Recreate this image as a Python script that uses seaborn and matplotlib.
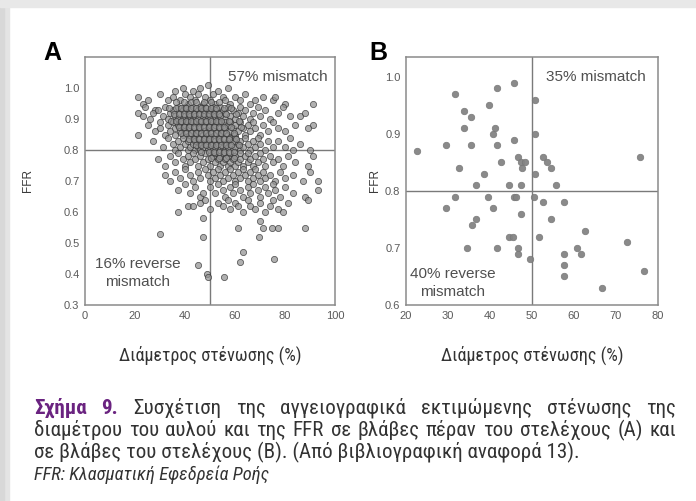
import matplotlib
matplotlib.use("Agg")
import matplotlib.pyplot as plt
import matplotlib.font_manager as fm
from matplotlib.patches import Rectangle
import seaborn as sns
import pandas as pd

# ---------------- data ----------------
# Panel A: non-left-main lesions (diameter stenosis %, FFR)
stenosis_A = [
    21, 23, 25, 28, 30, 33, 35, 36, 38, 39, 40, 41, 42, 43, 44, 45, 46, 47, 48, 49, 50, 51, 52, 53, 55, 56, 57, 58, 60, 62, 64, 66, 68, 71, 75, 76, 80,
    21, 23, 24, 26, 27, 29, 31, 32, 33, 34, 35, 36, 37, 37, 38, 39, 39, 40, 40, 41, 41, 42, 42, 43, 43, 44, 44, 45, 45, 46, 46, 47, 47, 48, 48, 49, 49,
    50, 50, 51, 51, 52, 52, 53, 53, 54, 54, 55, 56, 56, 57, 58, 59, 60, 61, 62, 63, 64, 66, 67, 69, 70, 72, 74, 77, 79, 82, 86, 91, 91, 88,
    21, 25, 28, 30, 30, 32, 33, 34, 35, 36, 36, 37, 38, 38, 39, 39, 40, 40, 41, 41, 42, 42, 43, 43, 44, 44, 45, 45, 46, 46, 47, 47, 48, 48, 49, 49,
    50, 50, 51, 51, 52, 52, 53, 53, 54, 54, 55, 55, 56, 56, 57, 57, 58, 58, 59, 60, 60, 61, 62, 63, 64, 65, 66, 67, 68, 70, 71, 73, 75, 77, 80, 84, 89,
    27, 31, 33, 35, 36, 37, 38, 39, 40, 41, 41, 42, 43, 43, 44, 44, 45, 45, 46, 46, 47, 47, 48, 48, 49, 49, 50, 50, 51, 51, 52, 52, 53, 53, 54, 54,
    55, 55, 56, 56, 57, 57, 58, 58, 59, 59, 60, 60, 61, 62, 62, 63, 64, 65, 66, 67, 68, 69, 70, 72, 73, 75, 77, 80, 83, 82, 86, 90,
    29, 32, 34, 36, 37, 39, 40, 41, 42, 43, 44, 45, 46, 47, 48, 49, 50, 51, 52, 52, 53, 54, 54, 55, 55, 56, 57, 57, 58, 58, 59, 60, 60, 61, 62, 62,
    63, 64, 65, 65, 66, 67, 68, 69, 70, 71, 72, 74, 75, 77, 79, 81, 84, 89, 91,
    32, 34, 36, 38, 40, 42, 43, 45, 46, 48, 49, 50, 51, 52, 53, 54, 55, 56, 57, 58, 59, 60, 61, 62, 63, 64, 65, 66, 67, 68, 69, 70, 71, 72, 74, 76,
    78, 80, 83, 87, 93, 90,
    37, 40, 42, 44, 46, 47, 50, 52, 53, 55, 56, 58, 59, 60, 62, 63, 65, 66, 67, 69, 70, 72, 73, 75, 76, 78, 80, 83, 88, 93,
    37, 41, 43, 46, 48, 50, 53, 55, 57, 58, 60, 61, 63, 65, 66, 68, 70, 72, 74, 75, 77, 79, 81, 89,
    30, 47, 47, 45, 48.6, 49, 55.6, 61, 62, 63, 69.5, 70, 74.6, 71, 75.5, 88, 77,
    # dense core
    36.5, 39.5, 42.5, 44.5, 47.5, 50.5, 53.5,
    33.5, 36.5, 38.5, 40.5, 42.5, 44.5, 46.5, 48.5, 50.5, 52.5, 55.5, 58.5,
    35.5, 37.5, 39.5, 41.5, 43.5, 45.5, 47.5, 49.5, 51.5, 53.5, 56.5, 60.5,
    34.5, 36.5, 38.5, 40.5, 42.5, 44.5, 46.5, 48.5, 50.5, 52.5, 54.5, 57.5, 61.5,
    37.5, 39.5, 41.5, 43.5, 45.5, 47.5, 49.5, 51.5, 53.5, 55.5, 58.5, 62.5,
    38.5, 40.5, 42.5, 44.5, 46.5, 48.5, 50.5, 52.5, 54.5, 56.5, 59.5,
    41.5, 43.5, 45.5, 47.5, 49.5, 51.5, 53.5, 55.5, 57.5, 60.5,
    44.5, 46.5, 48.5, 50.5, 52.5, 54.5, 56.5, 58.5, 61.5,
    46.5, 49.5, 51.5, 53.5, 55.5, 57.5, 59.5,
    50.5, 53.5, 56.5, 59.5,
]
ffr_A = [
    0.97, 0.95, 0.96, 0.93, 0.98, 0.96, 0.97, 0.99, 0.96, 1.00, 0.98, 0.95, 0.97, 0.99, 0.96, 0.98, 1.00, 0.95, 0.97, 1.01, 0.96, 0.98, 0.95, 0.99, 0.97, 0.96, 1.00, 0.95, 0.97, 0.96, 0.98, 0.95, 0.96, 0.97, 0.96, 0.97, 0.95,
    0.92, 0.91, 0.94, 0.90, 0.92, 0.93, 0.91, 0.94, 0.90, 0.92, 0.93, 0.91, 0.94, 0.90, 0.92, 0.93, 0.90, 0.91, 0.94, 0.92, 0.90, 0.93, 0.91, 0.94, 0.90, 0.92, 0.91, 0.93, 0.90, 0.94, 0.92, 0.91, 0.93, 0.90, 0.94, 0.92, 0.91,
    0.93, 0.90, 0.92, 0.94, 0.91, 0.93, 0.90, 0.92, 0.94, 0.91, 0.93, 0.90, 0.92, 0.94, 0.91, 0.93, 0.90, 0.92, 0.94, 0.91, 0.93, 0.90, 0.92, 0.94, 0.91, 0.93, 0.90, 0.92, 0.94, 0.91, 0.91, 0.95, 0.88, 0.92,
    0.85, 0.88, 0.86, 0.87, 0.89, 0.85, 0.88, 0.86, 0.89, 0.87, 0.85, 0.88, 0.86, 0.89, 0.87, 0.85, 0.88, 0.86, 0.89, 0.87, 0.85, 0.88, 0.86, 0.89, 0.87, 0.85, 0.88, 0.86, 0.89, 0.87, 0.85, 0.88, 0.86, 0.89, 0.87, 0.85,
    0.88, 0.86, 0.89, 0.87, 0.85, 0.88, 0.86, 0.89, 0.87, 0.85, 0.88, 0.86, 0.89, 0.87, 0.85, 0.88, 0.86, 0.89, 0.87, 0.85, 0.88, 0.86, 0.89, 0.87, 0.85, 0.88, 0.86, 0.89, 0.87, 0.85, 0.88, 0.86, 0.89, 0.87, 0.86, 0.88, 0.87,
    0.83, 0.81, 0.84, 0.82, 0.80, 0.83, 0.81, 0.84, 0.82, 0.80, 0.83, 0.81, 0.84, 0.82, 0.80, 0.83, 0.81, 0.84, 0.82, 0.80, 0.83, 0.81, 0.84, 0.82, 0.80, 0.83, 0.81, 0.84, 0.82, 0.80, 0.83, 0.81, 0.84, 0.82, 0.80, 0.83,
    0.81, 0.84, 0.82, 0.80, 0.83, 0.81, 0.84, 0.82, 0.80, 0.83, 0.81, 0.84, 0.82, 0.80, 0.83, 0.81, 0.84, 0.82, 0.80, 0.83, 0.81, 0.84, 0.82, 0.80, 0.83, 0.81, 0.83, 0.81, 0.80, 0.84, 0.82, 0.80,
    0.77, 0.75, 0.78, 0.76, 0.79, 0.77, 0.75, 0.78, 0.76, 0.79, 0.77, 0.75, 0.78, 0.76, 0.79, 0.77, 0.75, 0.78, 0.76, 0.79, 0.77, 0.75, 0.78, 0.76, 0.79, 0.77, 0.75, 0.78, 0.76, 0.79, 0.77, 0.75, 0.78, 0.76, 0.79, 0.77,
    0.75, 0.78, 0.76, 0.79, 0.77, 0.75, 0.78, 0.76, 0.79, 0.77, 0.75, 0.78, 0.76, 0.77, 0.75, 0.78, 0.76, 0.75, 0.78,
    0.72, 0.70, 0.73, 0.71, 0.74, 0.72, 0.70, 0.73, 0.71, 0.74, 0.72, 0.70, 0.73, 0.71, 0.74, 0.72, 0.70, 0.73, 0.71, 0.74, 0.72, 0.70, 0.73, 0.71, 0.74, 0.72, 0.70, 0.73, 0.71, 0.74, 0.72, 0.70, 0.73, 0.71, 0.72, 0.70,
    0.73, 0.71, 0.72, 0.70, 0.70, 0.73,
    0.67, 0.69, 0.66, 0.68, 0.65, 0.66, 0.68, 0.66, 0.69, 0.67, 0.65, 0.68, 0.66, 0.69, 0.67, 0.65, 0.68, 0.66, 0.69, 0.67, 0.65, 0.68, 0.66, 0.69, 0.67, 0.65, 0.68, 0.66, 0.65, 0.67,
    0.60, 0.62, 0.62, 0.63, 0.64, 0.61, 0.63, 0.62, 0.64, 0.61, 0.63, 0.62, 0.60, 0.64, 0.62, 0.61, 0.63, 0.60, 0.62, 0.64, 0.61, 0.60, 0.63, 0.64,
    0.53, 0.58, 0.52, 0.43, 0.40, 0.39, 0.39, 0.55, 0.44, 0.47, 0.52, 0.57, 0.55, 0.55, 0.45, 0.55, 0.55,
    # dense core
    0.955, 0.955, 0.955, 0.955, 0.955, 0.955, 0.955,
    0.935, 0.935, 0.935, 0.935, 0.935, 0.935, 0.935, 0.935, 0.935, 0.935, 0.935, 0.935,
    0.915, 0.915, 0.915, 0.915, 0.915, 0.915, 0.915, 0.915, 0.915, 0.915, 0.915, 0.915,
    0.895, 0.895, 0.895, 0.895, 0.895, 0.895, 0.895, 0.895, 0.895, 0.895, 0.895, 0.895, 0.895,
    0.875, 0.875, 0.875, 0.875, 0.875, 0.875, 0.875, 0.875, 0.875, 0.875, 0.875, 0.875,
    0.855, 0.855, 0.855, 0.855, 0.855, 0.855, 0.855, 0.855, 0.855, 0.855, 0.855,
    0.835, 0.835, 0.835, 0.835, 0.835, 0.835, 0.835, 0.835, 0.835, 0.835,
    0.815, 0.815, 0.815, 0.815, 0.815, 0.815, 0.815, 0.815, 0.815,
    0.795, 0.795, 0.795, 0.795, 0.795, 0.795, 0.795,
    0.775, 0.775, 0.775, 0.775,
]

# Panel B: left-main lesions
stenosis_B = [22.6, 31.6, 33.7, 35.5, 33.7, 29.5, 35.4, 32.6, 38.6, 36.6, 31.6, 29.5, 36.6, 35.6, 34.6,
              39.8, 41.6, 45.6, 40.6, 41.2, 41.6, 42.6, 45.6, 39.6, 40.6, 44.6, 45.6, 46.2, 47.4, 46.6,
              47.4, 48.4, 47.6, 47.4, 44.6, 45.4, 46.6, 46.6, 41.6, 49.6, 50.6, 50.6, 50.6, 50.4, 52.6,
              53.6, 54.6, 55.6, 52.6, 51.6, 54.6, 57.6, 57.6, 57.6, 57.6, 60.6, 61.6, 62.6, 66.6, 72.6,
              75.6, 76.6]
ffr_B = [0.87, 0.97, 0.94, 0.93, 0.91, 0.88, 0.88, 0.84, 0.83, 0.81, 0.79, 0.77, 0.75, 0.74, 0.70,
         0.95, 0.98, 0.99, 0.90, 0.91, 0.88, 0.85, 0.89, 0.79, 0.77, 0.81, 0.79, 0.79, 0.81, 0.86,
         0.85, 0.85, 0.84, 0.76, 0.72, 0.72, 0.70, 0.69, 0.70, 0.68, 0.96, 0.90, 0.83, 0.79, 0.86,
         0.85, 0.84, 0.81, 0.78, 0.72, 0.75, 0.78, 0.69, 0.67, 0.65, 0.70, 0.69, 0.73, 0.63, 0.71,
         0.86, 0.66]

xticks_A = [0, 20, 40, 60, 80, 100]
yticks_A = [0.3, 0.4, 0.5, 0.6, 0.7, 0.8, 0.9, 1.0]
xticks_B = [20, 30, 40, 50, 60, 70, 80]
yticks_B = [0.6, 0.7, 0.8, 0.9, 1.0]

xlabel = "Διάμετρος στένωσης (%)"
caption_line1 = [("Σχήμα", "fig"), ("9.", "fig"), ("Συσχέτιση", ""), ("της", ""), ("αγγειογραφικά", ""),
                 ("εκτιμώμενης", ""), ("στένωσης", ""), ("της", "")]
caption_line2 = "διαμέτρου του αυλού και της FFR σε βλάβες πέραν του στελέχους (Α) και"
caption_line3 = "σε βλάβες του στελέχους (Β). (Από βιβλιογραφική αναφορά 13)."
caption_note = "FFR: Κλασματική Εφεδρεία Ροής"

# ---------------- style ----------------
sns.set_theme(style="white")
available = {f.name for f in fm.fontManager.ttflist}


def first_font(cands):
    for c in cands:
        if c in available:
            return c
    return "DejaVu Sans"


plot_font = first_font(["Liberation Sans", "Arimo", "DejaVu Sans"])
cap_font = first_font(["Roboto Condensed", "Fira Sans Condensed", "Archivo Narrow", "Liberation Sans Narrow",
                       "Roboto"])
plt.rcParams["font.family"] = [plot_font, "DejaVu Sans"]

W, H = 696, 501
fig = plt.figure(figsize=(W / 100, H / 100), dpi=100)
fig.patch.set_facecolor("white")

# page border shading
fig.add_artist(Rectangle((0, 0), 9 / W, 1, transform=fig.transFigure, color="#e4e4e4", zorder=-5))
fig.add_artist(Rectangle((0, 0), 4 / W, 1, transform=fig.transFigure, color="#d8d8d8", zorder=-5))
fig.add_artist(Rectangle((0, 1 - 7 / H), 1, 7 / H, transform=fig.transFigure, color="#e8e8e8", zorder=-5))


def px_axes(x0, y0, x1, y1):
    return fig.add_axes([x0 / W, 1 - y1 / H, (x1 - x0) / W, (y1 - y0) / H])


axA = px_axes(85, 57, 335, 305)
axB = px_axes(406, 57, 658, 305)

dfA = pd.DataFrame({"stenosis": stenosis_A, "ffr": ffr_A})
dfB = pd.DataFrame({"stenosis": stenosis_B, "ffr": ffr_B})

sns.scatterplot(data=dfA, x="stenosis", y="ffr", ax=axA, s=20, color="#929292",
                edgecolor="#2e2e2e", linewidth=0.6, alpha=0.72, zorder=3)
sns.scatterplot(data=dfB, x="stenosis", y="ffr", ax=axB, s=22, color="#848484",
                edgecolor="#767676", linewidth=0.5, alpha=0.95, zorder=3)

for ax, xl, yl, xt, yt, lp in [(axA, (0, 100), (0.3, 1.1), xticks_A, yticks_A, 22),
                                (axB, (20, 80), (0.6, 1.035), xticks_B, yticks_B, 3)]:
    ax.set_xlim(*xl)
    ax.set_ylim(*yl)
    ax.set_xticks(xt)
    ax.set_yticks(yt)
    ax.set_xticklabels([f"{v:g}" for v in xt])
    ax.set_yticklabels([f"{v:.1f}" for v in yt])
    ax.axhline(0.8, color="#7a7a7a", lw=1.0, zorder=2)
    ax.axvline(50, color="#7a7a7a", lw=1.0, zorder=2)
    for sp in ax.spines.values():
        sp.set_visible(True)
        sp.set_color("#8a8a8a")
        sp.set_linewidth(1.1)
    ax.tick_params(axis="both", direction="out", length=2, width=1, color="#555555",
                   labelsize=8, labelcolor="#5a5a5a", pad=2)
    ax.set_xlabel("")
    ax.set_ylabel("FFR", fontsize=8.5, color="#3a3a3a", labelpad=lp)
    ax.set_facecolor("white")

# in-plot annotations
txt_kw = dict(color="#505050", fontsize=11, family=[plot_font, "DejaVu Sans"])
axA.text(0.97, 0.92, "57% mismatch", transform=axA.transAxes, ha="right", va="center", **txt_kw)
axA.text(0.21, 0.13, "16% reverse\nmismatch", transform=axA.transAxes, ha="center", va="center",
         linespacing=1.35, **txt_kw)
axB.text(0.95, 0.92, "35% mismatch", transform=axB.transAxes, ha="right", va="center", **txt_kw)
axB.text(0.185, 0.09, "40% reverse\nmismatch", transform=axB.transAxes, ha="center", va="center",
         linespacing=1.35, **txt_kw)

# panel letters
fig.text(52 / W, 1 - 53 / H, "A", fontsize=18, fontweight="bold", color="black", ha="center", va="center")
fig.text(378 / W, 1 - 53 / H, "B", fontsize=18, fontweight="bold", color="black", ha="center", va="center")

renderer = fig.canvas.get_renderer()
cap_kw = dict(family=[cap_font, "DejaVu Sans"])


def fit_size(text, target_px, base=12, **kw):
    t = fig.text(0, 0, text, fontsize=base, **kw)
    w = t.get_window_extent(renderer).width
    t.remove()
    return base * target_px / w


# x labels
xl_size = fit_size(xlabel, 183, **cap_kw)
for cx in (210, 532):
    fig.text(cx / W, 1 - 355 / H, xlabel, fontsize=xl_size, color="#333333", ha="center", va="center", **cap_kw)

# caption
X0, X1 = 34, 676
cap_size = fit_size(caption_line3, 578 - X0, **cap_kw)
purple = "#6a2380"


def justify(words, ybase):
    objs = []
    for w, kind in words:
        kw = dict(fontsize=cap_size, va="baseline", ha="left", **cap_kw)
        if kind == "fig":
            kw.update(color=purple, fontweight="bold")
        else:
            kw.update(color="#333333")
        objs.append(fig.text(0, 1 - ybase / H, w, **kw))
    widths = [t.get_window_extent(renderer).width for t in objs]
    gap = (X1 - X0 - sum(widths)) / (len(objs) - 1)
    x = X0
    for t, wd in zip(objs, widths):
        t.set_x(x / W)
        x += wd + gap


justify(caption_line1, 414)
justify([(w, "") for w in caption_line2.split()], 436)
fig.text(X0 / W, 1 - 458 / H, caption_line3, fontsize=cap_size, color="#333333", ha="left", va="baseline",
         **cap_kw)
note_size = fit_size(caption_note, 268 - X0, style="italic", **cap_kw)
fig.text(X0 / W, 1 - 480 / H, caption_note, fontsize=note_size, color="#333333", ha="left", va="baseline",
         style="italic", **cap_kw)

fig.savefig("out.png", dpi=100, facecolor="white")
